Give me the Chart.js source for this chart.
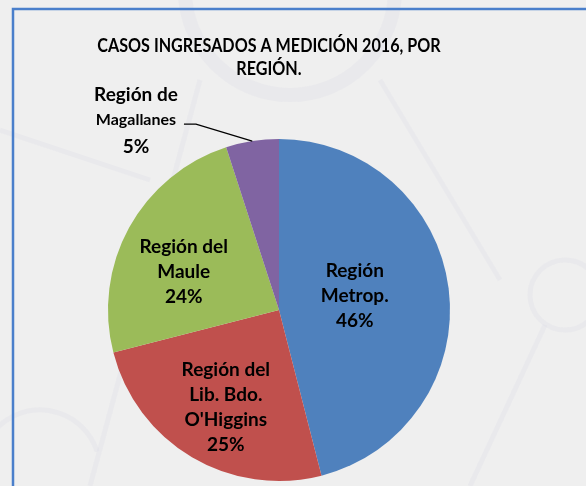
<!DOCTYPE html>
<html>
<head>
<meta charset="utf-8">
<script src="https://cdn.jsdelivr.net/npm/chart.js@4"></script>
<style>
  html, body { margin: 0; padding: 0; background: #efefef; }
  #wrap { position: relative; width: 586px; height: 486px; overflow: hidden; }
  canvas { display: block; }
</style>
</head>
<body>
<div id="wrap"><canvas id="c" width="586" height="486"></canvas></div>
<script>
const titleLines = ["CASOS INGRESADOS A MEDICIÓN 2016, POR", "REGIÓN."];
const categories = [
  ["Región", "Metrop."],
  ["Región del", "Lib. Bdo.", "O'Higgins"],
  ["Región del", "Maule"],
  ["Región de", "Magallanes"]
];
const values = [46, 25, 24, 5];
const colors = ["#4F81BD", "#C0504D", "#9BBB59", "#8064A2"];

const FONT = "Lato, 'Open Sans', sans-serif";

// label placement per slice: radius fraction and angle shift (deg) from slice mid-angle
const labelPlace = [
  { r: 0.45, da: -3 },
  { r: 0.65, da: -2 },
  { r: 0.60, da: -7 },
  { r: 1.39, da: -28 }
];

const bgPlugin = {
  id: 'bg',
  beforeDraw(chart) {
    const ctx = chart.ctx;
    ctx.save();
    ctx.fillStyle = '#efefef';
    ctx.fillRect(0, 0, chart.width, chart.height);
    // faint decorative network pattern
    ctx.strokeStyle = 'rgba(215,215,228,0.22)';
    ctx.lineWidth = 14;
    ctx.beginPath(); ctx.arc(290, -10, 105, 0, Math.PI * 2); ctx.stroke();
    ctx.lineWidth = 5;
    ctx.beginPath(); ctx.moveTo(200, 80); ctx.lineTo(90, 486); ctx.stroke();
    ctx.beginPath(); ctx.moveTo(380, 80); ctx.lineTo(500, 280); ctx.stroke();
    ctx.beginPath(); ctx.moveTo(0, 130); ctx.lineTo(150, 180); ctx.stroke();
    ctx.beginPath(); ctx.arc(565, 295, 35, 0, Math.PI * 2); ctx.stroke();
    ctx.beginPath(); ctx.moveTo(545, 325); ctx.lineTo(470, 486); ctx.stroke();
    ctx.beginPath(); ctx.arc(40, 470, 60, Math.PI * 1.1, Math.PI * 1.9); ctx.stroke();
    // blue frame
    ctx.strokeStyle = '#4A7FCB';
    ctx.lineWidth = 2.5;
    ctx.beginPath();
    ctx.moveTo(13, 490);
    ctx.lineTo(13, 9);
    ctx.lineTo(590, 9);
    ctx.stroke();
    // title
    ctx.fillStyle = '#000';
    ctx.font = "bold 19px " + FONT;
    ctx.textAlign = 'center';
    ctx.textBaseline = 'middle';
    ctx.save();
    ctx.translate(269, 0);
    ctx.scale(0.85, 1);
    ctx.fillText(titleLines[0], 0, 46);
    ctx.fillText(titleLines[1], 0, 69);
    ctx.restore();
    ctx.restore();
  }
};

const labelPlugin = {
  id: 'labels',
  afterDatasetsDraw(chart) {
    const ctx = chart.ctx;
    const meta = chart.getDatasetMeta(0);
    const total = values.reduce((a, b) => a + b, 0);
    ctx.save();
    ctx.fillStyle = '#000';
    ctx.textAlign = 'center';
    ctx.textBaseline = 'middle';
    meta.data.forEach((arc, i) => {
      const p = arc.getProps(['x', 'y', 'startAngle', 'endAngle', 'outerRadius'], true);
      const mid = (p.startAngle + p.endAngle) / 2 + labelPlace[i].da * Math.PI / 180;
      const rr = p.outerRadius * labelPlace[i].r;
      const cx = p.x + Math.cos(mid) * rr;
      const cy = p.y + Math.sin(mid) * rr;
      const pct = Math.round(values[i] / total * 100) + '%';
      const lines = categories[i].concat([pct]);
      const lh = 25;
      const y0 = cy - (lines.length - 1) * lh / 2;
      lines.forEach((t, k) => {
        let size = 19;
        if (i === 3 && k === 1) size = 16;
        ctx.font = "bold " + size + "px " + FONT;
        ctx.fillText(t, cx, y0 + k * lh + (i === 3 && k === 2 ? 2 : 0));
      });
      if (i === 3) {
        // leader line from label to slice edge
        const emid = (p.startAngle + p.endAngle) / 2;
        const ex = p.x + Math.cos(emid) * p.outerRadius;
        const ey = p.y + Math.sin(emid) * p.outerRadius;
        ctx.strokeStyle = '#000';
        ctx.lineWidth = 1.3;
        ctx.beginPath();
        ctx.moveTo(cx + 48, y0 + lh + 4);
        ctx.lineTo(cx + 60, y0 + lh + 4);
        ctx.lineTo(ex, ey);
        ctx.stroke();
      }
    });
    ctx.restore();
  }
};

new Chart(document.getElementById('c'), {
  type: 'pie',
  data: {
    labels: categories.map(c => c.join(' ')),
    datasets: [{
      data: values,
      backgroundColor: colors,
      borderWidth: 0
    }]
  },
  options: {
    responsive: false,
    animation: false,
    layout: { padding: { top: 139, bottom: 5, left: 108, right: 136 } },
    plugins: {
      legend: { display: false },
      title: { display: false },
      tooltip: { enabled: false }
    }
  },
  plugins: [bgPlugin, labelPlugin]
});
</script>
</body>
</html>
